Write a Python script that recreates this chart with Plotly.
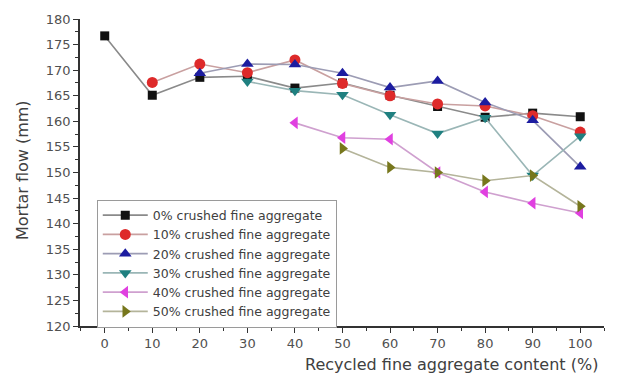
import plotly.graph_objects as go

# Recycled fine aggregate content (%)
x_all = [0, 10, 20, 30, 40, 50, 60, 70, 80, 90, 100]

# Mortar flow (mm) for each crushed fine aggregate replacement level
flow_0 = [176.7, 165.1, 168.6, 168.8, 166.5, 167.5, 165.1, 162.9, 160.8, 161.6, 160.9]
x_10 = [10, 20, 30, 40, 50, 60, 70, 80, 90, 100]
flow_10 = [167.6, 171.2, 169.5, 172.0, 167.4, 165.0, 163.4, 163.0, 161.1, 157.9]
x_20 = [20, 30, 40, 50, 60, 70, 80, 90, 100]
flow_20 = [169.4, 171.2, 171.1, 169.4, 166.6, 167.9, 163.7, 160.2, 151.1]
x_30 = [30, 40, 50, 60, 70, 80, 90, 100]
flow_30 = [167.8, 166.0, 165.2, 161.3, 157.6, 160.7, 149.4, 157.1]
x_40 = [40, 50, 60, 70, 80, 90, 100]
flow_40 = [159.7, 156.8, 156.5, 150.0, 146.2, 144.0, 142.1]
x_50 = [50, 60, 70, 80, 90, 100]
flow_50 = [154.7, 151.0, 150.0, 148.4, 149.4, 143.4]

series_names = [
    "0% crushed fine aggregate",
    "10% crushed fine aggregate",
    "20% crushed fine aggregate",
    "30% crushed fine aggregate",
    "40% crushed fine aggregate",
    "50% crushed fine aggregate",
]

series = [
    (x_all, flow_0, "square", "#111111", "#8a8a8a", 9),
    (x_10, flow_10, "circle", "#de2a2a", "#c9a0a0", 11),
    (x_20, flow_20, "triangle-up", "#1c1ca0", "#9c9cb4", 11),
    (x_30, flow_30, "triangle-down", "#1f8080", "#9ab6b6", 11),
    (x_40, flow_40, "triangle-left", "#e040e0", "#cfa0cf", 11),
    (x_50, flow_50, "triangle-right", "#77771c", "#b4b49a", 11),
]

fig = go.Figure()
for name, (xs, ys, sym, mcol, lcol, msize) in zip(series_names, series):
    fig.add_trace(go.Scatter(
        x=xs, y=ys, name=name, mode="lines+markers",
        line=dict(color=lcol, width=1.6),
        marker=dict(symbol=sym, color=mcol, size=msize, line=dict(width=0)),
    ))

axis_common = dict(
    showgrid=False, zeroline=False, showline=True, linecolor="#333333", linewidth=1.5,
    ticks="outside", ticklen=5, tickwidth=1.3, tickcolor="#333333",
    tickfont=dict(family="DejaVu Sans", size=13, color="#505050"),
)

fig.update_layout(
    width=617, height=378,
    margin=dict(l=80, r=13, t=15, b=52),
    paper_bgcolor="white", plot_bgcolor="white",
    showlegend=True,
    legend=dict(
        x=0.032, y=0.412, xanchor="left", yanchor="top",
        bgcolor="white", bordercolor="#9a9a9a", borderwidth=1,
        font=dict(family="DejaVu Sans", size=12.5, color="#404040"),
        tracegroupgap=0, itemwidth=45,
    ),
    xaxis=dict(range=[-5.2, 105], tickvals=list(range(0, 101, 10)),
               minor=dict(ticks="outside", ticklen=3, tickcolor="#333333", dtick=5, tick0=0),
               **axis_common),
    yaxis=dict(range=[120, 180], dtick=5, tick0=120,
               minor=dict(ticks="outside", ticklen=3, tickcolor="#333333", dtick=2.5, tick0=120),
               **axis_common),
    annotations=[
        dict(text="Recycled fine aggregate content (%)", xref="paper", yref="paper",
             x=(451 - 80) / 524, y=-0.125, xanchor="center", yanchor="middle", showarrow=False,
             font=dict(family="DejaVu Sans", size=16, color="#404040")),
        dict(text="Mortar flow (mm)", xref="paper", yref="paper",
             x=(22 - 80) / 524, y=(326 - 168) / 311, xanchor="center", yanchor="middle",
             textangle=-90, showarrow=False,
             font=dict(family="DejaVu Sans", size=16, color="#404040")),
    ],
)

fig.write_html("out.html")
